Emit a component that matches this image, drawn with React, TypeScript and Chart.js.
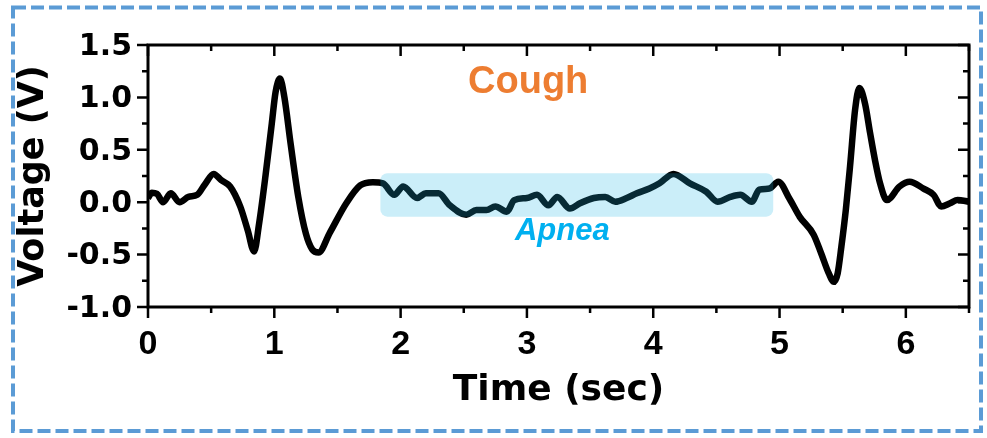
import React, { useEffect, useRef } from "react";
import { Chart, registerables } from "chart.js";

Chart.register(...registerables);

// ---- data ----
const timeSec: number[] = [
  0.0, 0.03, 0.07, 0.12, 0.18, 0.25, 0.32, 0.39, 0.45, 0.52, 0.58, 0.65, 0.73, 0.79, 0.84,
  0.88, 0.93, 0.98, 1.01, 1.045, 1.08, 1.13, 1.19, 1.25, 1.3, 1.35, 1.44, 1.57, 1.68, 1.78, 1.86,
  1.95, 2.02, 2.13, 2.2, 2.3, 2.39, 2.52, 2.6, 2.68, 2.75, 2.84, 2.9, 3.0, 3.08, 3.17,
  3.24, 3.34, 3.42, 3.53, 3.62, 3.7, 3.79, 3.87, 3.97, 4.05, 4.16, 4.29, 4.42, 4.51, 4.61,
  4.69, 4.78, 4.84, 4.92, 4.99, 5.08, 5.16, 5.27, 5.33, 5.39, 5.43, 5.46, 5.49, 5.525, 5.558,
  5.598, 5.632, 5.677, 5.717, 5.756, 5.796, 5.85, 5.95, 6.03, 6.14, 6.22, 6.28, 6.35, 6.41, 6.5,
];
const voltage: number[] = [
  0.04, 0.09, 0.08, 0.0, 0.085, 0.0, 0.05, 0.07, 0.17, 0.27, 0.21, 0.15, -0.04, -0.27, -0.47,
  -0.2, 0.25, 0.75, 1.05, 1.18, 1.0, 0.55, 0.05, -0.3, -0.45, -0.48, -0.29, -0.01, 0.16, 0.19, 0.18,
  0.07, 0.15, 0.04, 0.085, 0.085, -0.03, -0.12, -0.075, -0.075, -0.04, -0.09, 0.02, 0.04, 0.07, -0.03,
  0.05, -0.06, -0.01, 0.04, 0.05, 0.005, 0.04, 0.085, 0.13, 0.18, 0.27, 0.18, 0.1, 0.005, 0.05,
  0.07, 0.005, 0.12, 0.13, 0.195, 0.03, -0.14, -0.31, -0.49, -0.68, -0.76, -0.68, -0.42, -0.07, 0.34,
  0.88, 1.09, 0.94, 0.66, 0.4, 0.18, 0.02, 0.15, 0.195, 0.13, 0.07, -0.04, -0.01, 0.02, 0.005,
];

const xRange: number[] = [0, 6.5];
const yRange: number[] = [-1, 1.5];
const xTickStep = 0.5;
const yTickStep = 0.25;

// apnea shaded region: [t start, t end, v low, v high]
const apneaRegion: number[] = [1.84, 4.95, -0.138, 0.276];
const coughLabel = { text: "Cough", t: 3.01, v: 1.04 };
const apneaLabel = { text: "Apnea", t: 3.28, v: -0.36 };

const xTitle = "Time (sec)";
const yTitle = "Voltage (V)";

const FONT = "'Liberation Sans', Arial, Helvetica, sans-serif";
const WIDE = "'DejaVu Sans', Verdana, sans-serif";

const decorPlugin = {
  id: "decor",
  beforeDraw(chart: any) {
    const ctx = chart.ctx as CanvasRenderingContext2D;
    ctx.save();
    ctx.fillStyle = "#ffffff";
    ctx.fillRect(0, 0, chart.width, chart.height);
    // dashed outer border
    ctx.strokeStyle = "#5B9BD5";
    ctx.lineWidth = 4;
    ctx.setLineDash([13, 5]);
    ctx.strokeRect(13, 7.5, 968, 423.5);
    ctx.restore();
  },
  afterDatasetsDraw(chart: any) {
    const ctx = chart.ctx as CanvasRenderingContext2D;
    const { left, right, top, bottom } = chart.chartArea;
    const xs = chart.scales.x;
    const ys = chart.scales.y;

    // apnea overlay box
    const bx1 = xs.getPixelForValue(apneaRegion[0]);
    const bx2 = xs.getPixelForValue(apneaRegion[1]);
    const by1 = ys.getPixelForValue(apneaRegion[3]);
    const by2 = ys.getPixelForValue(apneaRegion[2]);
    ctx.save();
    ctx.fillStyle = "rgba(30,180,230,0.23)";
    ctx.beginPath();
    (ctx as any).roundRect(bx1, by1, bx2 - bx1, by2 - by1, 7);
    ctx.fill();
    ctx.restore();

    // frame
    ctx.save();
    ctx.strokeStyle = "#000";
    ctx.lineWidth = 3;
    ctx.strokeRect(left, top, right - left, bottom - top);
    ctx.lineWidth = 2.5;
    ctx.beginPath();
    for (const tk of xs.ticks) {
      const v = tk.value;
      const px = xs.getPixelForValue(v);
      const major = Math.abs(v - Math.round(v)) < 1e-6;
      const len = major ? 11 : 6;
      ctx.moveTo(px, bottom);
      ctx.lineTo(px, bottom + len);
      ctx.moveTo(px, top);
      ctx.lineTo(px, top + len);
    }
    for (const tk of ys.ticks) {
      const v = tk.value;
      const py = ys.getPixelForValue(v);
      const major = Math.abs(v * 2 - Math.round(v * 2)) < 1e-6;
      const len = major ? 11 : 6;
      ctx.moveTo(left, py);
      ctx.lineTo(left - len, py);
      ctx.moveTo(right, py);
      ctx.lineTo(right - len, py);
    }
    ctx.stroke();
    ctx.restore();

    // annotations
    ctx.save();
    ctx.textAlign = "center";
    ctx.textBaseline = "alphabetic";
    ctx.fillStyle = "#ED7D31";
    ctx.font = `bold 38px ${FONT}`;
    ctx.fillText(coughLabel.text, xs.getPixelForValue(coughLabel.t), ys.getPixelForValue(coughLabel.v));
    ctx.fillStyle = "#00B0F0";
    ctx.font = `italic bold 31px ${FONT}`;
    ctx.fillText(apneaLabel.text, xs.getPixelForValue(apneaLabel.t), ys.getPixelForValue(apneaLabel.v));
    ctx.restore();
  },
};

export default function App() {
  const ref = useRef<HTMLCanvasElement | null>(null);

  useEffect(() => {
    if (!ref.current) return;
    const points = timeSec.map((t, i) => ({ x: t, y: voltage[i] }));
    const chart = new Chart(ref.current, {
      type: "line",
      data: {
        datasets: [
          {
            data: points,
            borderColor: "#000000",
            borderWidth: 6.5,
            pointRadius: 0,
            cubicInterpolationMode: "monotone",
            fill: false,
          },
        ],
      },
      options: {
        responsive: false,
        animation: false,
        layout: { padding: { left: 0, top: 45, right: 18, bottom: 0 } },
        plugins: { legend: { display: false }, tooltip: { enabled: false } },
        scales: {
          x: {
            type: "linear",
            min: xRange[0],
            max: xRange[1],
            grid: { display: false, drawTicks: false },
            border: { display: false },
            ticks: {
              stepSize: xTickStep,
              autoSkip: false,
              maxRotation: 0,
              padding: 17,
              color: "#000",
              font: { family: FONT, size: 34, weight: "bold" },
              callback: (v: any) => (Math.abs(v - Math.round(v)) < 1e-6 ? String(Math.round(v)) : ""),
            },
            title: {
              display: true,
              text: xTitle,
              color: "#000",
              font: { family: WIDE, size: 36, weight: "bold" },
              padding: { top: 0, bottom: 26 },
            },
            afterFit: (s: any) => {
              s.height = 131;
            },
          },
          y: {
            type: "linear",
            min: yRange[0],
            max: yRange[1],
            grid: { display: false, drawTicks: false },
            border: { display: false },
            ticks: {
              stepSize: yTickStep,
              autoSkip: false,
              padding: 16,
              labelOffset: 2,
              color: "#000",
              font: { family: WIDE, size: 30, weight: "bold" },
              callback: (v: any) =>
                Math.abs(v * 2 - Math.round(v * 2)) < 1e-6 ? Number(v).toFixed(1) : "",
            },
            title: {
              display: true,
              text: yTitle,
              color: "#000",
              font: { family: WIDE, size: 35, weight: "bold" },
              padding: { top: 13, bottom: 0 },
            },
            afterFit: (s: any) => {
              s.width = 148;
            },
          },
        },
      },
      plugins: [decorPlugin],
    });
    return () => chart.destroy();
  }, []);

  return (
    <div style={{ position: "fixed", left: 0, top: 0, width: 987, height: 438 }}>
      <canvas ref={ref} width={987} height={438} style={{ display: "block" }} />
    </div>
  );
}
